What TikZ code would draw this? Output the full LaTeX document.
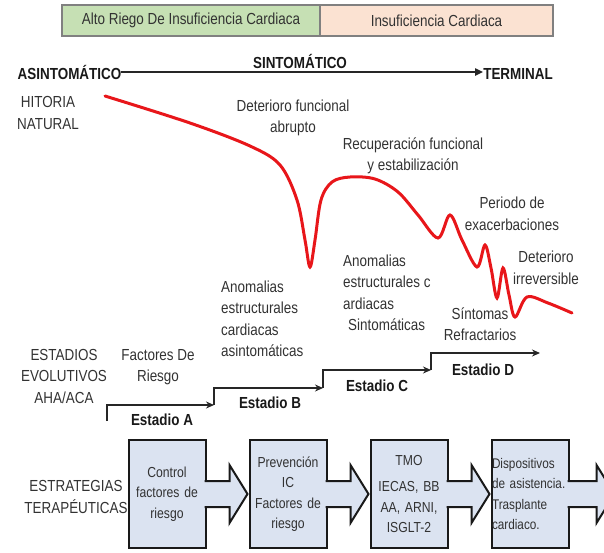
\documentclass[tikz,border=0pt]{standalone}
\usepackage{fontspec}
\setmainfont{Liberation Sans}[FakeStretch=0.84]
\usepackage{xcolor}
\usetikzlibrary{arrows.meta,positioning}
\definecolor{riskgreen}{RGB}{198,224,180}
\definecolor{hfpeach}{RGB}{251,226,210}
\definecolor{boxblue}{RGB}{219,227,241}
\definecolor{txtgray}{RGB}{50,50,50}
\definecolor{curvered}{RGB}{232,22,26}

\begin{document}
\begin{tikzpicture}[
        x=1pt, y=-1pt,
        every node/.style={inner sep=0pt, text=txtgray, font=\fontsize{16}{21.5}\selectfont, align=center},
        bold/.style={font=\fontsize{16}{21.5}\selectfont\bfseries, text=black!90},
        band/.style={draw=black!50, line width=1.4pt, minimum height=31pt, outer sep=0pt},
        strategy/.style={draw=black!90, line width=2pt, fill=boxblue, minimum height=108pt, text width=71pt, inner sep=3pt, outer sep=0pt, font=\fontsize{14.5}{20.5}\selectfont},
        callout/.style={draw=black!90, line width=2pt, fill=boxblue, line join=miter},
        stage/.style={-{Stealth[length=8pt,width=7pt]}, line width=1.5pt, black!85},
        history/.style={curvered, line width=3pt, line cap=round}
    ]
    \useasboundingbox (0,0) rectangle (604,552);
    % top bands
    \node[band, fill=riskgreen, minimum width=258pt] (alto) at (191,20.5) {Alto Riego De Insuficiencia Cardiaca};
    \node[band, fill=hfpeach, minimum width=233pt, right=0pt of alto] (ic) {Insuficiencia Cardiaca};
    % timeline
    \node[bold] (asinto) at (69.5,72) {ASINTOMÁTICO};
    \node[bold] (sinto) at (300,61) {SINTOMÁTICO};
    \node[bold] (terminal) at (518,74) {TERMINAL};
    \draw[-{Triangle[length=8pt,width=7pt]}, line width=2pt, black!85] (asinto.east) -- (asinto.east -| terminal.west);
    % natural history
    \node (natural) at (48,113) {HITORIA\\NATURAL};
    \draw[history] plot[smooth, tension=0.55] coordinates {(105,96) (190,123) (250,146) (280,165) (297,200) (305,240) (310,267) (315,240) (321,200) (332,182) (350,177) (375,179) (398,192) (418,215) (438,238) (450,215) (462,240) (477,267) (485,245) (491,268) (497,298) (503,268) (509,295) (515,317) (527,297) (548,303) (572,313)};
    \node (abrupt) at (293,118) {Deterioro funcional\\abrupto};
    \node (recovery) at (413,156) {Recuperación funcional\\y estabilización};
    \node (exacerb) at (512,214) {Periodo de\\exacerbaciones};
    \node (irrevers) at (546,268) {Deterioro\\irreversible};
    \node (refract) at (480,324) {Síntomas\\Refractarios};
    \node[anchor=west, align=left] (anomB) at (221,319) {Anomalias\\estructurales\\cardiacas\\asintomáticas};
    \node[anchor=west, align=left] (anomC) at (343,293) {Anomalias\\estructurales c\\ardiacas\\\hspace*{5pt}Sintomáticas};
    % AHA/ACA stages
    \node (stages) at (64,376) {ESTADIOS\\EVOLUTIVOS\\AHA/ACA};
    \node (risk) at (158,367) {Factores De\\Riesgo};
    \coordinate (startA) at (107,421);
    \coordinate (endA) at (214,405);
    \coordinate (endB) at (323,388);
    \coordinate (endC) at (431,370);
    \coordinate (endD) at (540,353);
    \draw[stage] (startA) |- (endA);
    \draw[stage] (endA) |- (endB);
    \draw[stage] (endB) |- (endC);
    \draw[stage] (endC) |- (endD);
    \node[bold] (stA) at (162,420) {Estadio A};
    \node[bold] (stB) at (270,403) {Estadio B};
    \node[bold] (stC) at (377,386) {Estadio C};
    \node[bold] (stD) at (483,370) {Estadio D};
    % therapeutic strategies
    \node (strategies) at (76,497) {ESTRATEGIAS\\TERAPÉUTICAS};
    \node[strategy] (control) at (167,494) {Control\\factores de\\riesgo};
    \node[strategy, right=44pt of control] (prevention) {Prevención\\IC\\Factores de\\riesgo};
    \node[strategy, right=44pt of prevention] (drugs) {TMO\\[6pt]IECAS, BB\\AA, ARNI,\\ISGLT-2};
    \node[strategy, right=44pt of drugs, align=left, text width=76pt, inner sep=0.5pt, font=\fontsize{14}{20.5}\selectfont] (devices) {Dispositivos\\de asistencia.\\Trasplante\\cardiaco.};
    \draw[callout] ([xshift=-1pt, yshift=13pt]control.east) -- ++(25,0) -- ++(0,-16) -- ++(18,29) -- ++(-18,29) -- ++(0,-16) -- ++(-25,0);
    \draw[callout] ([xshift=-1pt, yshift=13pt]prevention.east) -- ++(25,0) -- ++(0,-16) -- ++(18,29) -- ++(-18,29) -- ++(0,-16) -- ++(-25,0);
    \draw[callout] ([xshift=-1pt, yshift=13pt]drugs.east) -- ++(25,0) -- ++(0,-16) -- ++(18,29) -- ++(-18,29) -- ++(0,-16) -- ++(-25,0);
    \draw[callout] ([xshift=-1pt, yshift=13pt]devices.east) -- ++(29,0) -- ++(0,-16) -- ++(18,29) -- ++(-18,29) -- ++(0,-16) -- ++(-29,0);
\end{tikzpicture}
\end{document}
